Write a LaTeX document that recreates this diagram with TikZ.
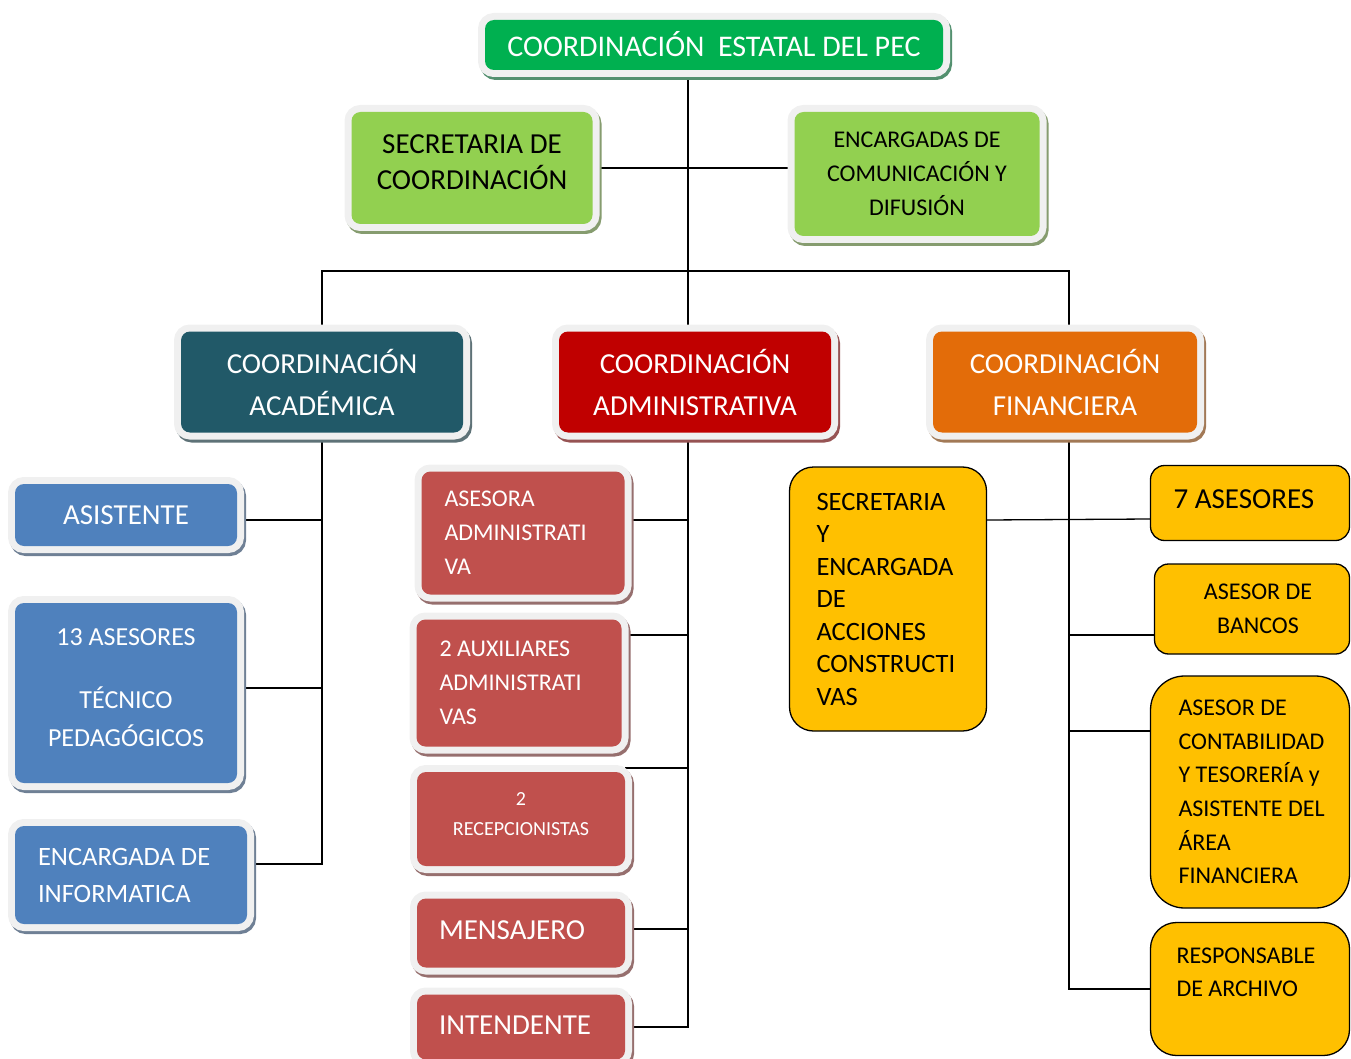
\documentclass[tikz,border=0pt]{standalone}
\usepackage{fontspec}
\setmainfont{Carlito}
\usetikzlibrary{backgrounds}

\definecolor{verdeEst}{RGB}{0,176,80}
\definecolor{verdeCl}{RGB}{146,208,80}
\definecolor{azulOsc}{RGB}{33,89,104}
\definecolor{rojoOsc}{RGB}{192,0,0}
\definecolor{naranja}{RGB}{227,108,9}
\definecolor{azul}{RGB}{79,129,189}
\definecolor{rojo}{RGB}{192,80,77}
\definecolor{oro}{RGB}{255,192,0}
\definecolor{aureola}{RGB}{240,240,240}

\begin{document}
\begin{tikzpicture}[
    x=1pt,
    y=-1pt,
    every node/.style={inner sep=0pt, outer sep=0pt},
    cuadro/.style={rectangle, rounded corners=9pt, fill=#1, text=white,
        preaction={draw=#1!35!gray, line width=14pt, transform canvas={shift={(2pt,-3pt)}}},
        preaction={draw=aureola, line width=14pt}},
    cuadroOro/.style={rectangle, draw=black, line width=1.3pt, fill=oro, text=black},
    izq/.style={align=left, inner xsep=#1, execute at begin node={\spaceskip=0pt\relax}},
    grande/.style={font=\fontsize{29pt}{42pt}\selectfont},
    mediana/.style={font=\fontsize{24pt}{34pt}\selectfont},
    linea/.style={line width=1.3pt}
]
\useasboundingbox (0,0) rectangle (1351,1059);

% Coordinación estatal:
% barra verde arriba, con la secretaría y la comunicación debajo.
\node[cuadro=verdeEst, font=\fontsize{30pt}{36pt}\selectfont, text depth=3pt,
    minimum width=458pt, minimum height=50pt] (pec) at (714,45)
    {COORDINACIÓN\ \ ESTATAL DEL PEC};
\node[cuadro=verdeCl, text=black, align=center, font=\fontsize{29pt}{36pt}\selectfont,
    text depth=12pt, minimum width=241pt, minimum height=112pt] (secCoord) at (472,168)
    {SECRETARIA DE\\COORDINACIÓN};
\node[cuadro=verdeCl, text=black, align=center, mediana,
    minimum width=245pt, minimum height=124pt] (enc) at (917,174)
    {ENCARGADAS DE\\COMUNICACIÓN Y\\DIFUSIÓN};

% Las tres coordinaciones:
% misma altura, repartidas a lo ancho.
\node[cuadro=azulOsc, align=center, grande, minimum width=282pt, minimum height=101pt] (acad) at (322,382)
    {COORDINACIÓN\\ACADÉMICA};
\node[cuadro=rojoOsc, align=center, grande, minimum width=272pt, minimum height=101pt] (adm) at (695,382)
    {COORDINACIÓN\\ADMINISTRATIVA};
\node[cuadro=naranja, align=center, grande, minimum width=264pt, minimum height=101pt] (fin) at (1065,382)
    {COORDINACIÓN\\FINANCIERA};

% Área académica:
% columna azul a la izquierda.
\node[cuadro=azul, grande, minimum width=222pt, minimum height=62pt] (asis) at (126,515)
    {ASISTENTE};
\node[cuadro=azul, align=center, font=\fontsize{26pt}{38pt}\selectfont, text depth=11pt,
    minimum width=222pt, minimum height=180pt] (ases13) at (126,693)
    {13 ASESORES\\[25pt]TÉCNICO\\PEDAGÓGICOS};
\node[cuadro=azul, izq=23pt, text width=186pt, font=\fontsize{26.5pt}{37pt}\selectfont,
    minimum height=98pt] (info) at (131,875)
    {\mbox{ENCARGADA DE}\\INFORMATICA};

% Área administrativa:
% columna roja al centro.
\node[cuadro=rojo, izq=23pt, text width=157pt, mediana, minimum height=123pt] (asesora) at (523,533)
    {ASESORA\\ADMINISTRATI\\VA};
\node[cuadro=rojo, izq=23pt, text width=159pt, mediana, minimum height=127pt] (aux) at (519,683)
    {\mbox{2 AUXILIARES}\\ADMINISTRATI\\VAS};
\node[cuadro=rojo, align=center, font=\fontsize{20pt}{30pt}\selectfont, text depth=10pt,
    minimum width=208pt, minimum height=94pt] (recep) at (521,819)
    {2\\RECEPCIONISTAS};
\node[cuadro=rojo, izq=22pt, text width=164pt, grande, text depth=5pt, minimum height=69pt] (mens) at (521,933)
    {MENSAJERO};
\node[cuadro=rojo, izq=22pt, text width=164pt, grande, text depth=3pt, minimum height=65pt] (inten) at (521,1027)
    {INTENDENTE};

% Área financiera:
% cuadros amarillos con borde negro, cortados por el margen derecho.
\node[cuadroOro, rounded corners=24pt, izq=27pt, text width=143pt,
    font=\fontsize{26.5pt}{32.5pt}\selectfont, minimum height=264pt] (sec2) at (888,599)
    {SECRETARIA\\Y\\ENCARGADA\\DE\\ACCIONES\\CONSTRUCTI\\VAS};
\node[cuadroOro, rounded corners=14pt, izq=23pt, text width=153pt, grande, text depth=8pt,
    minimum height=75pt] (ases7) at (1250,503)
    {\mbox{7 ASESORES}};
\node[cuadroOro, rounded corners=14pt, align=center, mediana,
    minimum width=195pt, minimum height=90pt] (bancos) at (1252,609)
    {\hspace*{12pt}ASESOR DE\\\hspace*{12pt}BANCOS};
\node[cuadroOro, rounded corners=34pt, izq=28pt, text width=143pt,
    font=\fontsize{24pt}{33.6pt}\selectfont, minimum height=232pt] (conta) at (1250,792)
    {\mbox{ASESOR DE}\\CONTABILIDAD\\\mbox{Y TESORERÍA y}\\\mbox{ASISTENTE DEL}\\ÁREA\\FINANCIERA};
\node[cuadroOro, rounded corners=26pt, izq=26pt, text width=147pt,
    font=\fontsize{24pt}{33pt}\selectfont, minimum height=133pt] (resp) at (1250,989)
    {RESPONSABLE\\\mbox{DE ARCHIVO}\\~};

% Conectores:
% por debajo de los cuadros, para que la aureola los tape.
\begin{scope}[on background layer]
\coordinate (bus) at (688,271);
\coordinate (ejeAdm) at ([xshift=-7pt]adm.south);
\coordinate (ejeFin) at ([xshift=4pt]fin.south);

\draw[linea] (bus |- pec.south) -- (bus |- adm.north);
\draw[linea] (secCoord.east) -- (secCoord.east -| enc.west);
\draw[linea] (acad.north) |- (bus) -| ([xshift=4pt]fin.north);

\foreach \n/\desp in {asis/-5pt, ases13/5pt, info/11pt}
    \draw[linea] (acad.south) |- ([yshift=\desp]\n.east);

\foreach \n/\desp in {asesora/13pt, aux/48pt, recep/51pt, mens/4pt, inten/0pt}
    \draw[linea] (ejeAdm) |- ([yshift=\desp]\n.east);

\draw[linea] ([yshift=79pt]sec2.east) -- ([yshift=-16pt]ases7.west);
\foreach \n/\desp in {bancos/-26pt, conta/61pt, resp/0pt}
    \draw[linea] (ejeFin) |- ([yshift=\desp]\n.west);
\end{scope}

\end{tikzpicture}
\end{document}
